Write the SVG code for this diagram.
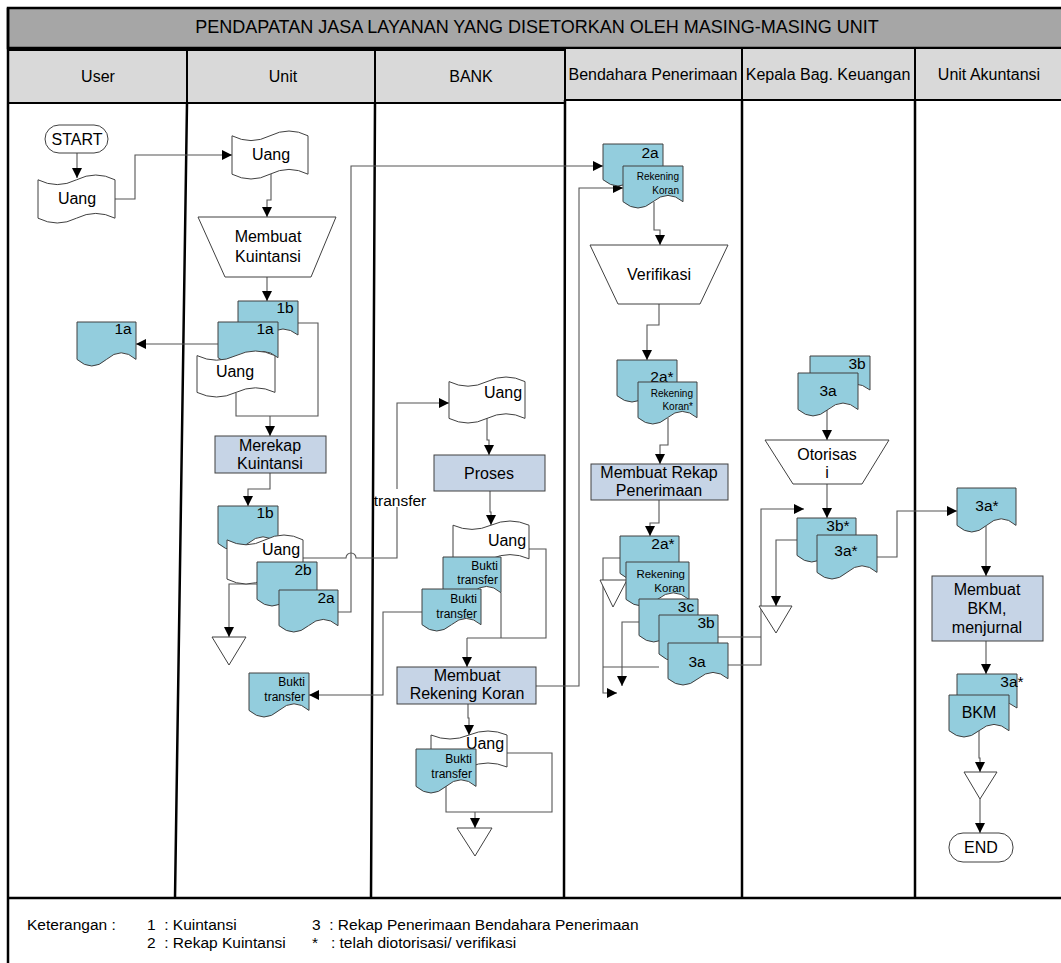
<svg xmlns="http://www.w3.org/2000/svg" width="1061" height="963" viewBox="0 0 1061 963">
<defs>
<marker id="ah" viewBox="0 0 10 10" refX="10" refY="5" markerWidth="10" markerHeight="10" markerUnits="userSpaceOnUse" orient="auto">
<path d="M0,0 L10,5 L0,10 Z" fill="#000"/>
</marker>
<style>
text{font-family:"Liberation Sans",Arial,sans-serif;fill:#000}
.lane{stroke:#000;stroke-width:2.5;fill:none}
.ttl{fill:#a6a6a6;stroke:#000;stroke-width:2.5}
.hdr{fill:#d9d9d9;stroke:#000;stroke-width:2}
.doc{fill:#93cddd;stroke:#404040;stroke-width:1}
.tape{fill:#fff;stroke:#404040;stroke-width:1}
.proc{fill:#c6d4e6;stroke:#404040;stroke-width:1}
.trap{fill:#fff;stroke:#404040;stroke-width:1}
.term{fill:#fff;stroke:#404040;stroke-width:1}
.tri{fill:#fff;stroke:#404040;stroke-width:1}
.conn{fill:none;stroke:#555;stroke-width:1.1}
.arr{marker-end:url(#ah)}
.t16{font-size:16px;text-anchor:middle}
.t15{font-size:15.5px;text-anchor:middle}
.h15{font-size:16px;text-anchor:middle}
.sm{font-size:12px;text-anchor:end}
.xs{font-size:10px;text-anchor:end}
.ms{font-size:11.5px;text-anchor:end}
.leg{font-size:15.5px}
</style>
</defs>
<rect width="1061" height="963" fill="#fff"/>

<g id="frame">
<rect class="ttl" x="8" y="8" width="1060" height="40"/>
<text x="537" y="33" font-size="18" text-anchor="middle">PENDAPATAN JASA LAYANAN YANG DISETORKAN OLEH MASING-MASING UNIT</text>
<rect class="hdr" x="8" y="50" width="179" height="53"/>
<rect class="hdr" x="187" y="50" width="188" height="53"/>
<rect class="hdr" x="375" y="50" width="190" height="53"/>
<rect class="hdr" x="565" y="48" width="177" height="52"/>
<rect class="hdr" x="742" y="48" width="173" height="52"/>
<rect class="hdr" x="915" y="48" width="150" height="52"/>
<text class="h15" x="98" y="82">User</text>
<text class="h15" x="283" y="82">Unit</text>
<text class="h15" x="471" y="82">BANK</text>
<text class="h15" x="653" y="80">Bendahara Penerimaan</text>
<text class="h15" x="828" y="80">Kepala Bag. Keuangan</text>
<text class="h15" x="989" y="80">Unit Akuntansi</text>
<path class="lane" d="M8,8 V963 M187,103 L175,898 M375,103 L371,898 M565,100 L564,898 M742,100 V898 M915,100 V898 M8,898 H1061"/>
</g>

<g id="legend">
<text class="leg" x="27" y="930">Keterangan :</text>
<text class="leg" x="147" y="930" xml:space="preserve">1  : Kuintansi</text>
<text class="leg" x="147" y="948" xml:space="preserve">2  : Rekap Kuintansi</text>
<text class="leg" x="312" y="930" xml:space="preserve">3  : Rekap Penerimaan Bendahara Penerimaan</text>
<text class="leg" x="312" y="948" xml:space="preserve">*   : telah diotorisasi/ verifikasi</text>
</g>

<g id="connectors">
<path class="conn arr" d="M77,153 V178"/>
<path class="conn arr" d="M115,199 H135 V155 H232"/>
<path class="conn arr" d="M271,174 V200 H267 V217"/>
<path class="conn arr" d="M267,277 V301"/>
<path class="conn arr" d="M218,344 H136"/>
<path class="conn" d="M298,323 H318 V416 H236 V393"/>
<path class="conn arr" d="M270,416 V436"/>
<path class="conn arr" d="M270,473 V489 H248 V506"/>
<path class="conn arr" d="M303,558 H346 a5,5 0 0 1 10,0 H397 V403 H449"/>
<path class="conn arr" d="M338,612 H351 V166 H603"/>
<path class="conn arr" d="M257,584 H229 V637"/>
<path class="conn arr" d="M422,612 H383 V695 H309"/>
<path class="conn arr" d="M487,418 V440 H489 V455"/>
<path class="conn arr" d="M490,491 V512 H491 V525"/>
<path class="conn" d="M529,549 H546 V638 H467 M501,593 V638"/>
<path class="conn arr" d="M467,638 V667"/>
<path class="conn arr" d="M536,686 H579 V188 H623"/>
<path class="conn arr" d="M468,704 V718 H469 V735"/>
<path class="conn" d="M507,753 H552 V812 H446 V786"/>
<path class="conn arr" d="M475,812 V828"/>
<path class="conn arr" d="M654,202 V230 H660 V245"/>
<path class="conn arr" d="M659,304 V325 H647 V360"/>
<path class="conn arr" d="M668,418 V445 H660 V464"/>
<path class="conn arr" d="M659,500 V523 H650 V536"/>
<path class="conn arr" d="M620,558 H603 V693 H617"/>
<path class="conn arr" d="M639,622 H622 V686"/>
<path class="conn" d="M659,667 H603"/>
<path class="conn" d="M718,637 H761"/>
<path class="conn arr" d="M728,665 H761 V509 H804"/>
<path class="conn arr" d="M827,410 V440"/>
<path class="conn arr" d="M827,484 V518"/>
<path class="conn arr" d="M797,540 H776 V606"/>
<path class="conn arr" d="M877,557 H897 V511 H957"/>
<path class="conn arr" d="M986,525 V576"/>
<path class="conn arr" d="M986,641 V674"/>
<path class="conn arr" d="M979,731 V758 H980 V772"/>
<path class="conn arr" d="M980,799 V833"/>
<rect x="377" y="489" width="46" height="18" fill="#fff"/>
<text x="400" y="506" font-size="15.5" text-anchor="middle">transfer</text>
</g>

<g id="user-start">
<rect class="term" x="45" y="125" width="63" height="28" rx="14"/>
<text class="t16" x="77" y="145">START</text>
</g>
<g id="user-uang">
<path class="tape" d="M38,179.8 q19.25,9.6 38.5,0 t38.5,0 v38.4 q-19.25,-9.6 -38.5,0 t-38.5,0 z"/>
<text class="t16" x="77" y="204">Uang</text>
</g>
<g id="user-1a">
<path class="doc" d="M77,322 h59 v37.4 q-14.75,-13.2 -29.5,0 t-29.5,0 z"/>
<text class="t15" x="123" y="334">1a</text>
</g>

<g id="unit-uang">
<path class="tape" d="M232,135.8 q19,9.6 38,0 t38,0 v38.4 q-19,-9.6 -38,0 t-38,0 z"/>
<text class="t16" x="271" y="160">Uang</text>
</g>
<g id="unit-membuat-kuintansi">
<path class="trap" d="M198,217 H336 L311,277 H225 Z"/>
<text class="t16" x="268" y="242">Membuat</text>
<text class="t16" x="268" y="262">Kuintansi</text>
</g>
<g id="unit-stack1">
<path class="doc" d="M238,301 h60 v34 q-15,-12 -30,0 t-30,0 z"/>
<text class="t15" x="285" y="313">1b</text>
<path class="doc" d="M218,322 h60 v35.7 q-15,-12.6 -30,0 t-30,0 z"/>
<text class="t15" x="265" y="334">1a</text>
<path class="tape" d="M197,355.6 q19.5,9.2 39,0 t39,0 v36.8 q-19.5,-9.2 -39,0 t-39,0 z"/>
<text class="t16" x="235" y="377">Uang</text>
</g>
<g id="unit-merekap">
<rect class="proc" x="215" y="436" width="111" height="37"/>
<text class="t16" x="270" y="451">Merekap</text>
<text class="t16" x="270" y="469">Kuintansi</text>
</g>
<g id="unit-stack2">
<path class="doc" d="M218,506 h60 v37.4 q-15,-13.2 -30,0 t-30,0 z"/>
<text class="t15" x="265" y="518">1b</text>
<path class="tape" d="M227,539.9 q19,9.8 38,0 t38,0 v39.2 q-19,-9.8 -38,0 t-38,0 z"/>
<text class="t16" x="281" y="555">Uang</text>
<path class="doc" d="M257,562 h60 v37.4 q-15,-13.2 -30,0 t-30,0 z"/>
<text class="t15" x="303" y="575">2b</text>
<path class="doc" d="M279,590 h59 v35.7 q-14.75,-12.6 -29.5,0 t-29.5,0 z"/>
<text class="t15" x="326" y="603">2a</text>
</g>
<g id="unit-end">
<path class="tri" d="M212,637 H246 L229,665 Z"/>
</g>
<g id="unit-bukti">
<path class="doc" d="M249,673 h60 v37.4 q-15,-13.2 -30,0 t-30,0 z"/>
<text class="sm" x="305" y="686">Bukti</text>
<text class="sm" x="305" y="701">transfer</text>
</g>

<g id="bank-uang">
<path class="tape" d="M449,381.6 q19,9.2 38,0 t38,0 v36.8 q-19,-9.2 -38,0 t-38,0 z"/>
<text class="t16" x="503" y="398">Uang</text>
</g>
<g id="bank-proses">
<rect class="proc" x="434" y="455" width="111" height="36"/>
<text class="t16" x="489" y="479">Proses</text>
</g>
<g id="bank-stack1">
<path class="tape" d="M453,525.2 q19,8.4 38,0 t38,0 v33.6 q-19,-8.4 -38,0 t-38,0 z"/>
<text class="t16" x="507" y="546">Uang</text>
<path class="doc" d="M443,557 h58 v35.7 q-14.5,-12.6 -29,0 t-29,0 z"/>
<text class="sm" x="498" y="570">Bukti</text>
<text class="sm" x="498" y="584">transfer</text>
<path class="doc" d="M422,589 h59 v35.7 q-14.75,-12.6 -29.5,0 t-29.5,0 z"/>
<text class="sm" x="477" y="603">Bukti</text>
<text class="sm" x="477" y="618">transfer</text>
</g>
<g id="bank-rekening">
<rect class="proc" x="397" y="667" width="139" height="37"/>
<text class="t16" x="467" y="681">Membuat</text>
<text class="t16" x="467" y="699">Rekening Koran</text>
</g>
<g id="bank-stack2">
<path class="tape" d="M431,735 q19,8 38,0 t38,0 v32 q-19,-8 -38,0 t-38,0 z"/>
<text class="t16" x="485" y="749">Uang</text>
<path class="doc" d="M416,749 h60 v37.4 q-15,-13.2 -30,0 t-30,0 z"/>
<text class="sm" x="472" y="763">Bukti</text>
<text class="sm" x="472" y="778">transfer</text>
</g>
<g id="bank-end">
<path class="tri" d="M457,828 H492 L475,856 Z"/>
</g>

<g id="bend-stack1">
<path class="doc" d="M603,144 h60 v35.7 q-15,-12.6 -30,0 t-30,0 z"/>
<text class="t15" x="650" y="158">2a</text>
<path class="doc" d="M623,166 h60 v35.7 q-15,-12.6 -30,0 t-30,0 z"/>
<text class="xs" x="679" y="180">Rekening</text>
<text class="xs" x="679" y="194">Koran</text>
</g>
<g id="bend-verifikasi">
<path class="trap" d="M590,245 H728 L700,304 H618 Z"/>
<text class="t16" x="659" y="280">Verifikasi</text>
</g>
<g id="bend-stack2">
<path class="doc" d="M617,360 h60 v35.7 q-15,-12.6 -30,0 t-30,0 z"/>
<text class="t15" x="662" y="382">2a*</text>
<path class="doc" d="M638,382 h59 v35.7 q-14.75,-12.6 -29.5,0 t-29.5,0 z"/>
<text class="xs" x="693" y="397">Rekening</text>
<text class="xs" x="693" y="410">Koran*</text>
</g>
<g id="bend-rekap">
<rect class="proc" x="591" y="464" width="137" height="36"/>
<text class="t16" x="659" y="478">Membuat Rekap</text>
<text class="t16" x="659" y="496">Penerimaan</text>
</g>
<g id="bend-end">
<path class="tri" d="M600,580 H627 L613,607 Z"/>
</g>
<g id="bend-stack3">
<path class="doc" d="M620,536 h59 v37.4 q-14.75,-13.2 -29.5,0 t-29.5,0 z"/>
<text class="t15" x="663" y="549">2a*</text>
<path class="doc" d="M626,562 h63 v37.4 q-15.75,-13.2 -31.5,0 t-31.5,0 z"/>
<text class="ms" x="685" y="578">Rekening</text>
<text class="ms" x="685" y="592">Koran</text>
<path class="doc" d="M639,599 h59 v36.5 q-14.75,-12.9 -29.5,0 t-29.5,0 z"/>
<text class="t15" x="686" y="612">3c</text>
<path class="doc" d="M659,615 h59 v39 q-14.75,-13.8 -29.5,0 t-29.5,0 z"/>
<text class="t15" x="706" y="628">3b</text>
<path class="doc" d="M668,643 h60 v35.7 q-15,-12.6 -30,0 t-30,0 z"/>
<text class="t15" x="697" y="667">3a</text>
</g>

<g id="kep-stack1">
<path class="doc" d="M810,356 h60 v34 q-15,-12 -30,0 t-30,0 z"/>
<text class="t15" x="857" y="369">3b</text>
<path class="doc" d="M798,373 h60 v36.5 q-15,-12.9 -30,0 t-30,0 z"/>
<text class="t15" x="828" y="396">3a</text>
</g>
<g id="kep-otorisasi">
<path class="trap" d="M765,440 H889 L862,484 H793 Z"/>
<text class="t16" x="827" y="460">Otorisas</text>
<text class="t16" x="827" y="478">i</text>
</g>
<g id="kep-stack2">
<path class="doc" d="M797,518 h59 v37.4 q-14.75,-13.2 -29.5,0 t-29.5,0 z"/>
<text class="t15" x="838" y="531">3b*</text>
<path class="doc" d="M817,535 h60 v37.4 q-15,-13.2 -30,0 t-30,0 z"/>
<text class="t15" x="846" y="556">3a*</text>
</g>
<g id="kep-end">
<path class="tri" d="M759,606 H792 L776,633 Z"/>
</g>

<g id="ua-3a">
<path class="doc" d="M957,488 h59 v37.4 q-14.75,-13.2 -29.5,0 t-29.5,0 z"/>
<text class="t15" x="987" y="511">3a*</text>
</g>
<g id="ua-bkm-proc">
<rect class="proc" x="932" y="576" width="111" height="65"/>
<text class="t16" x="987" y="595">Membuat</text>
<text class="t16" x="987" y="614">BKM,</text>
<text class="t16" x="987" y="633">menjurnal</text>
</g>
<g id="ua-stack">
<path class="doc" d="M957,674 h60 v34 q-15,-12 -30,0 t-30,0 z"/>
<text class="t15" x="1012" y="687" text-anchor="end">3a*</text>
<path class="doc" d="M949,695 h60 v35.7 q-15,-12.6 -30,0 t-30,0 z"/>
<text class="t16" x="979" y="718">BKM</text>
</g>
<g id="ua-tri">
<path class="tri" d="M964,772 H997 L980,799 Z"/>
</g>
<g id="ua-end">
<rect class="term" x="949" y="833" width="64" height="29" rx="14"/>
<text class="t16" x="981" y="853">END</text>
</g>
</svg>
